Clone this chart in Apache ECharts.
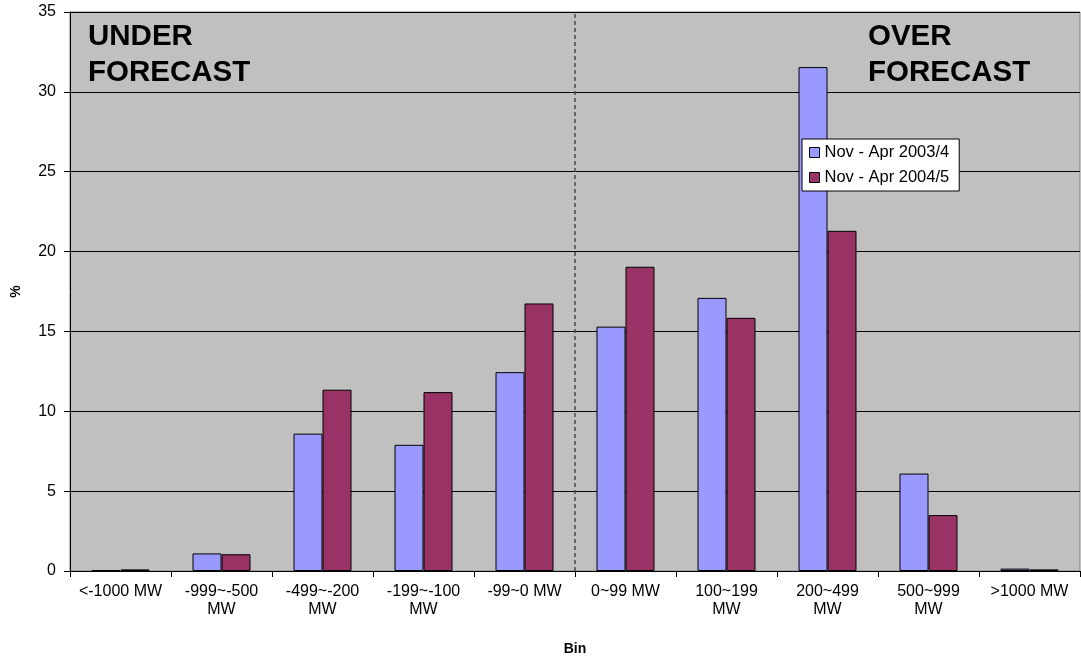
<!DOCTYPE html>
<html>
<head>
<meta charset="utf-8">
<script src="https://cdn.jsdelivr.net/npm/echarts@6/dist/echarts.min.js"></script>
<style>
html,body{margin:0;padding:0;background:#fff;}
#chart{width:1081px;height:661px;}
</style>
</head>
<body>
<div id="chart"></div>
<script>
// Forecast error bins
const bins = ['<-1000 MW', '-999~-500\nMW', '-499~-200\nMW', '-199~-100\nMW', '-99~0 MW',
              '0~99 MW', '100~199\nMW', '200~499\nMW', '500~999\nMW', '>1000 MW'];
// Share of hours in each bin (%)
const season2003 = [0.05, 1.1, 8.6, 7.9, 12.45, 15.3, 17.1, 31.55, 6.1, 0.15];
const season2004 = [0.1, 1.05, 11.35, 11.2, 16.75, 19.05, 15.85, 21.3, 3.5, 0.1];
const seriesNames = ['Nov - Apr 2003/4', 'Nov - Apr 2004/5'];
const yTicks = { min: 0, max: 35, interval: 5 };
// Split between under- and over-forecast bins (in bin units)
const splitAt = 5;

const chart = echarts.init(document.getElementById('chart'), null, { renderer: 'canvas' });
const font = 'Liberation Sans, Arial, sans-serif';

chart.setOption({
  animation: false,
  backgroundColor: '#ffffff',
  textStyle: { fontFamily: font },
  grid: {
    left: 70, right: 1, top: 12, bottom: 88,
    show: true, backgroundColor: '#c0c0c0', borderColor: '#808080', borderWidth: 1
  },
  legend: {
    data: seriesNames,
    orient: 'vertical',
    left: 802, top: 139,
    itemWidth: 10, itemHeight: 10, itemGap: 8,
    padding: [5, 10, 5, 7],
    backgroundColor: '#ffffff', borderColor: '#000000', borderWidth: 1,
    borderRadius: 0,
    icon: 'rect',
    textStyle: { fontFamily: font, fontSize: 16.5, color: '#000', padding: [0, 0, 0, 0] },
    itemStyle: { borderColor: '#000', borderWidth: 1 }
  },
  xAxis: [{
    type: 'category',
    data: bins,
    name: 'Bin',
    nameLocation: 'middle',
    nameGap: 71,
    nameTextStyle: { fontFamily: font, fontWeight: 'bold', fontSize: 14, color: '#000' },
    axisLine: { lineStyle: { color: '#000', width: 1 } },
    axisTick: { show: true, length: 6, lineStyle: { color: '#000' } },
    axisLabel: { color: '#000', fontFamily: font, fontSize: 16, margin: 12, lineHeight: 18, interval: 0 },
    splitLine: { show: false }
  }, {
    type: 'value',
    min: 0, max: bins.length,
    show: false
  }],
  yAxis: {
    type: 'value',
    min: yTicks.min, max: yTicks.max, interval: yTicks.interval,
    name: '%',
    nameLocation: 'middle',
    nameGap: 47,
    nameRotate: 90,
    nameTextStyle: { fontFamily: font, fontWeight: 'bold', fontSize: 14, color: '#000' },
    axisLine: { show: true, lineStyle: { color: '#000' } },
    axisTick: { show: true, length: 6, lineStyle: { color: '#000' } },
    axisLabel: { color: '#000', fontFamily: font, fontSize: 16, margin: 14 },
    splitLine: { show: true, lineStyle: { color: '#000', width: 1 } }
  },
  series: [{
    name: seriesNames[0],
    type: 'bar',
    data: season2003,
    barWidth: 29,
    barGap: '0%',
    itemStyle: { color: '#9999ff', borderColor: '#000', borderWidth: 1 }
  }, {
    name: seriesNames[1],
    type: 'bar',
    data: season2004,
    barWidth: 29,
    barGap: '0%',
    itemStyle: { color: '#993366', borderColor: '#000', borderWidth: 1 }
  }, {
    // dashed divider between the two halves
    type: 'line',
    xAxisIndex: 1,
    data: [],
    silent: true,
    markLine: {
      symbol: ['none', 'none'],
      silent: true,
      label: { show: false },
      lineStyle: { color: '#4a4a4a', type: [4, 3], width: 1.5 },
      data: [{ xAxis: splitAt }]
    }
  }],
  graphic: [{
    type: 'text', left: 88, top: 19,
    style: { text: 'UNDER\nFORECAST', font: 'bold 29.5px ' + font, fill: '#000', lineHeight: 36 }
  }, {
    type: 'text', left: 868, top: 19,
    style: { text: 'OVER\nFORECAST', font: 'bold 29.5px ' + font, fill: '#000', lineHeight: 36 }
  }]
});
</script>
</body>
</html>
